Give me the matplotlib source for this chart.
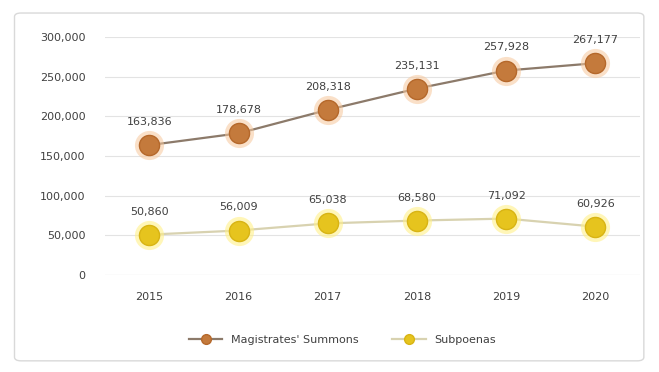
import matplotlib
matplotlib.use("Agg")
import matplotlib.pyplot as plt
from matplotlib.patches import FancyBboxPatch
from matplotlib.ticker import FuncFormatter
from matplotlib.lines import Line2D

years = ["2015", "2016", "2017", "2018", "2019", "2020"]
summons = [163836, 178678, 208318, 235131, 257928, 267177]
subpoenas = [50860, 56009, 65038, 68580, 71092, 60926]
series_names = ["Magistrates' Summons", "Subpoenas"]

fig = plt.figure(figsize=(6.59, 3.72), dpi=100)
fig.patch.set_facecolor("white")
border = FancyBboxPatch((0.022, 0.03), 0.955, 0.935, boxstyle="round,pad=0,rounding_size=0.01",
                        transform=fig.transFigure, fill=False, edgecolor="#d9d9d9", linewidth=1.0)
fig.patches.append(border)

ax = fig.add_axes([0.159, 0.261, 0.812, 0.639])
x = list(range(len(years)))

orange = "#C47A3C"
yellow = "#E6C41E"
text_col = "#404040"

ax.plot(x, summons, color="#8c7a6a", linewidth=1.6, zorder=2)
ax.plot(x, subpoenas, color="#d8d2b0", linewidth=1.6, zorder=2)
ax.scatter(x, summons, s=440, color="#F6C79C", alpha=0.55, linewidths=0, zorder=3)
ax.scatter(x, summons, s=210, color=orange, edgecolors="#B5682B", linewidths=1, zorder=4)
ax.scatter(x, subpoenas, s=440, color="#FFF08A", alpha=0.6, linewidths=0, zorder=3)
ax.scatter(x, subpoenas, s=210, color=yellow, edgecolors="#D8B414", linewidths=1, zorder=4)

for xi, v in zip(x, summons):
    ax.annotate(f"{v:,}", (xi, v), xytext=(0, 13), textcoords="offset points",
                ha="center", va="bottom", fontsize=8, color=text_col)
for xi, v in zip(x, subpoenas):
    ax.annotate(f"{v:,}", (xi, v), xytext=(0, 13), textcoords="offset points",
                ha="center", va="bottom", fontsize=8, color=text_col)

ax.set_xlim(-0.5, len(years) - 0.5)
ax.set_ylim(0, 300000)
ax.set_yticks(range(0, 300001, 50000))
ax.yaxis.set_major_formatter(FuncFormatter(lambda v, p: f"{int(v):,}"))
ax.set_xticks(x)
ax.set_xticklabels(years)
ax.tick_params(axis="both", length=0, labelsize=8, colors=text_col)
ax.tick_params(axis="y", pad=14)
ax.tick_params(axis="x", pad=12)
ax.grid(axis="y", color="#e3e3e3", linewidth=0.8)
ax.set_axisbelow(True)
for s in ax.spines.values():
    s.set_visible(False)
ax.axhline(0, color="#d9d9d9", linewidth=0.8)

handles = [
    Line2D([0], [0], color="#8c7a6a", linewidth=1.6, marker="o", markersize=7,
           markerfacecolor=orange, markeredgecolor="#B5682B"),
    Line2D([0], [0], color="#d8d2b0", linewidth=1.6, marker="o", markersize=7,
           markerfacecolor=yellow, markeredgecolor="#D8B414"),
]
fig.legend(handles, series_names, loc="center", bbox_to_anchor=(0.52, 0.085), ncol=2,
           frameon=False, fontsize=8, labelcolor=text_col, columnspacing=3, handlelength=3)

fig.savefig("out.png", dpi=100, facecolor="white")
